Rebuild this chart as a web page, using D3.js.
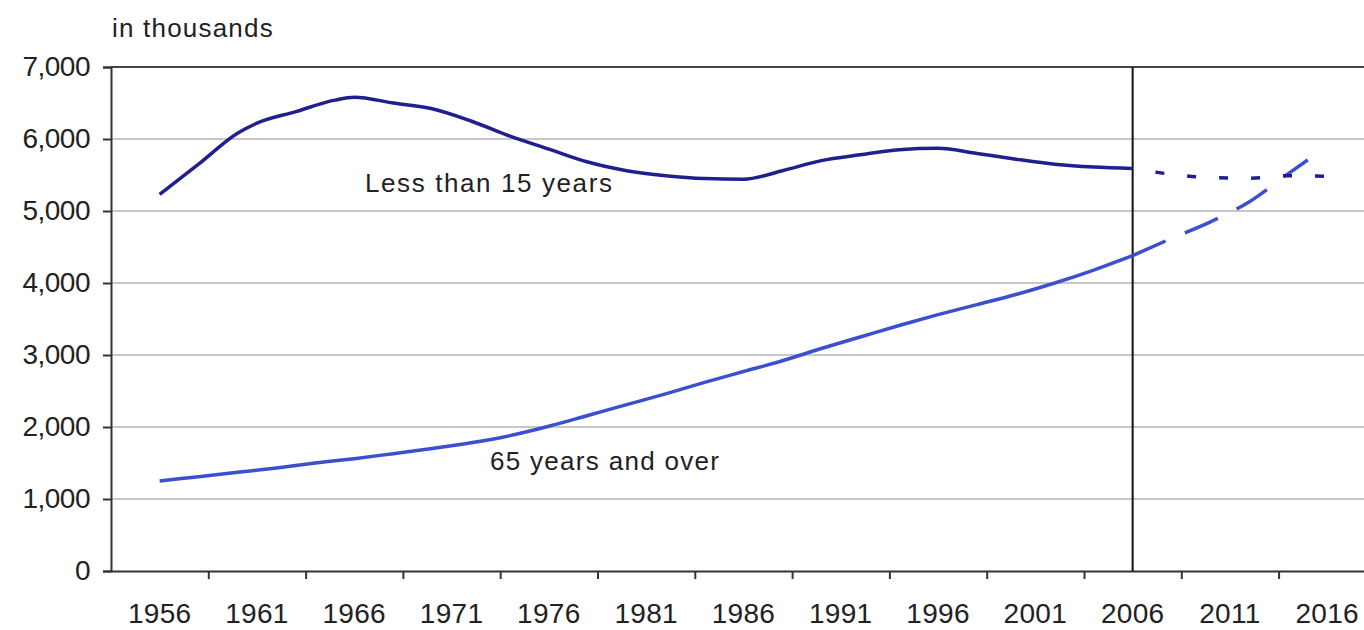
<!DOCTYPE html>
<html>
<head>
<meta charset="utf-8">
<script src="https://cdn.jsdelivr.net/npm/d3@7"></script>
<style>
  body { margin: 0; background: #fff; }
  svg { display: block; }
  text { font-family: "Liberation Sans", Arial, sans-serif; fill: #222; }
</style>
</head>
<body>
<div id="chart"></div>
<script>
// population, in thousands
const youngYears = [1956, 1958, 1960, 1961, 1963, 1965, 1966, 1968, 1970, 1972, 1974, 1976, 1978, 1980, 1982, 1984, 1986, 1988, 1990, 1992, 1994, 1996, 1998, 2000, 2002, 2004, 2006];
const youngValues = [5230, 5650, 6080, 6220, 6380, 6540, 6580, 6500, 6420, 6250, 6040, 5860, 5680, 5560, 5490, 5450, 5440, 5560, 5700, 5780, 5850, 5870, 5800, 5720, 5650, 5610, 5590];
const youngProjYears = [2006, 2008, 2010, 2012, 2014, 2016];
const youngProjValues = [5590, 5510, 5465, 5455, 5490, 5480];

const oldYears = [1956, 1958, 1960, 1962, 1964, 1966, 1968, 1970, 1972, 1974, 1976, 1978, 1980, 1982, 1984, 1986, 1988, 1990, 1992, 1994, 1996, 1998, 2000, 2002, 2004, 2006];
const oldValues = [1250, 1310, 1370, 1430, 1500, 1560, 1630, 1700, 1780, 1880, 2010, 2160, 2310, 2460, 2620, 2770, 2920, 3090, 3250, 3410, 3560, 3700, 3840, 4000, 4180, 4380];
const oldProjYears = [2006, 2008, 2010, 2012, 2014, 2015];
const oldProjValues = [4380, 4620, 4850, 5130, 5520, 5710];

const yearLabels = [1956, 1961, 1966, 1971, 1976, 1981, 1986, 1991, 1996, 2001, 2006, 2011, 2016];
const yTicks = [0, 1000, 2000, 3000, 4000, 5000, 6000, 7000];
const projectionStart = 2006;

const width = 1364, height = 630;
const plotLeft = 111, plotTop = 67, plotBottom = 571;

const svg = d3.select("#chart").append("svg")
  .attr("width", width).attr("height", height);

const x = d3.scaleLinear().domain([1953.5, 2018.5]).range([plotLeft, plotLeft + 65 * 19.46]);
const y = d3.scaleLinear().domain([0, 7000]).range([plotBottom, plotTop]);

// gridlines
svg.append("g")
  .selectAll("line")
  .data(yTicks.filter(d => d > 0 && d < 7000))
  .join("line")
  .attr("x1", plotLeft).attr("x2", width)
  .attr("y1", d => y(d)).attr("y2", d => y(d))
  .attr("stroke", "#c8c8c8").attr("stroke-width", 2);

// top border of plot area
svg.append("line")
  .attr("x1", plotLeft).attr("x2", width)
  .attr("y1", y(7000)).attr("y2", y(7000))
  .attr("stroke", "#444").attr("stroke-width", 2);

// y axis
const yAxis = svg.append("g")
  .attr("transform", `translate(${plotLeft},0)`)
  .call(d3.axisLeft(y).tickValues(yTicks).tickFormat(d3.format(",")).tickSize(8).tickPadding(13));
yAxis.select(".domain").attr("stroke", "#333").attr("stroke-width", 2);
yAxis.selectAll(".tick line").attr("stroke", "#333").attr("stroke-width", 2);
yAxis.selectAll("text")
  .attr("font-size", 28)
  .attr("font-family", "Liberation Sans, Arial")
  .attr("letter-spacing", -0.5)
  .attr("fill", "#222");

// x axis: tick marks between labels
const tickYears = d3.range(1958.5, 2019, 5);
const xAxis = svg.append("g")
  .attr("transform", `translate(0,${plotBottom})`)
  .call(d3.axisBottom(x).tickValues(tickYears).tickFormat("").tickSize(8).tickSizeOuter(0));
xAxis.select(".domain").attr("stroke", "#333").attr("stroke-width", 2);
xAxis.selectAll(".tick line").attr("stroke", "#333").attr("stroke-width", 2);

svg.append("g")
  .selectAll("text")
  .data(yearLabels)
  .join("text")
  .attr("x", d => x(d))
  .attr("y", 623)
  .attr("text-anchor", "middle")
  .attr("font-size", 28)
  .attr("letter-spacing", 0.3)
  .text(d => d);

// projection divider
svg.append("line")
  .attr("x1", x(projectionStart)).attr("x2", x(projectionStart))
  .attr("y1", y(7000)).attr("y2", plotBottom)
  .attr("stroke", "#111").attr("stroke-width", 2);

const line = d3.line()
  .x(d => x(d[0]))
  .y(d => y(d[1]))
  .curve(d3.curveMonotoneX);

const youngColor = "#1f1f8f";
const oldColor = "#3b4fd0";

svg.append("path")
  .attr("d", line(d3.zip(oldYears, oldValues)))
  .attr("fill", "none").attr("stroke", oldColor).attr("stroke-width", 3.5);

svg.append("path")
  .attr("d", line(d3.zip(oldProjYears, oldProjValues)))
  .attr("fill", "none").attr("stroke", oldColor).attr("stroke-width", 3.5)
  .attr("stroke-dasharray", "36,21");

svg.append("path")
  .attr("d", line(d3.zip(youngYears, youngValues)))
  .attr("fill", "none").attr("stroke", youngColor).attr("stroke-width", 3.5);

svg.append("path")
  .attr("d", line(d3.zip(youngProjYears, youngProjValues)))
  .attr("fill", "none").attr("stroke", youngColor).attr("stroke-width", 3.5)
  .attr("stroke-dasharray", "0,23,9,0");

// labels
svg.append("text").attr("x", 112).attr("y", 37).attr("font-size", 26).attr("letter-spacing", 1.2).text("in thousands");
svg.append("text").attr("x", 365).attr("y", 192).attr("font-size", 26).attr("letter-spacing", 1.6).text("Less than 15 years");
svg.append("text").attr("x", 490).attr("y", 470).attr("font-size", 26).attr("letter-spacing", 1.3).text("65 years and over");
</script>
</body>
</html>
